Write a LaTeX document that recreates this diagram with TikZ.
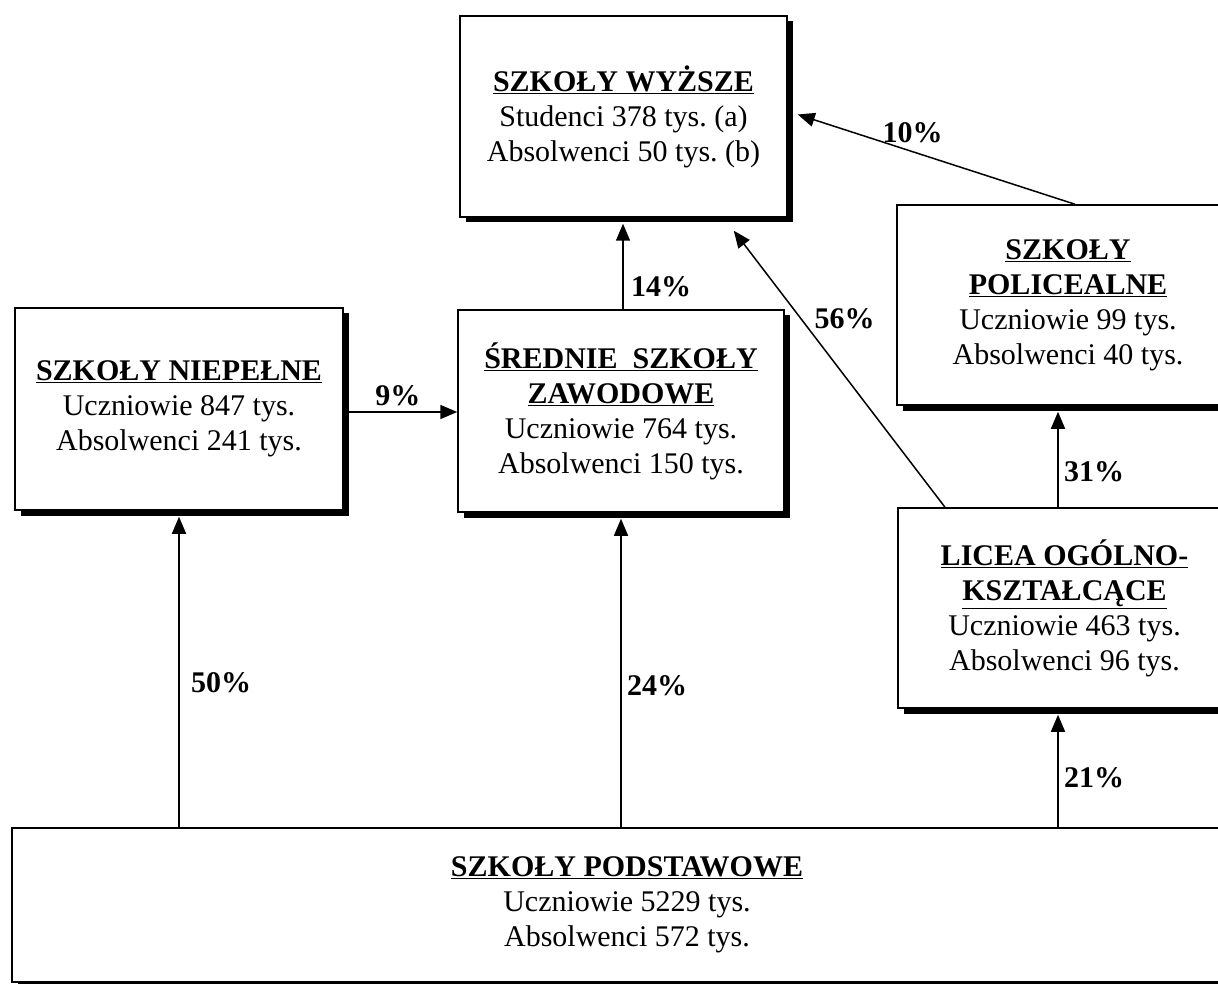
\documentclass[tikz,border=0pt]{standalone}
\usepackage{fontspec}
\setmainfont{Liberation Serif}
\usetikzlibrary{arrows.meta,shadows}
\frenchspacing

% bold, underlined heading line of a box
\newcommand\boxtitle[1]{\textbf{\underline{#1}}}

\tikzset{
  box/.style={draw, line width=1.5pt, fill=white, align=center, inner sep=0pt,
    font=\fontsize{30}{35}\selectfont,
    drop shadow={shadow xshift=5.5pt, shadow yshift=-5.5pt, fill=black, opacity=1}},
  link/.style={line width=1.5pt, -{Triangle[length=17pt,width=14pt]}},
  pct/.style={font=\bfseries\fontsize{30}{32}\selectfont, inner sep=2pt},
}

\begin{document}
\begin{tikzpicture}[x=1pt,y=-1pt]
\useasboundingbox (0,0) rectangle (1218,984);
\clip (0,0) rectangle (1218,984);

% school levels
\node[box, minimum width=327pt, minimum height=201pt] (wyz) at (623.5,116.5)
  {\boxtitle{SZKOŁY WYŻSZE}\\Studenci 378 tys. (a)\\Absolwenci 50 tys. (b)};
\node[box, minimum width=328pt, minimum height=202pt] (niep) at (179,409)
  {\boxtitle{SZKOŁY NIEPEŁNE}\\Uczniowie 847 tys.\\Absolwenci 241 tys.};
\node[box, minimum width=326pt, minimum height=202pt] (sred) at (621,411)
  {\boxtitle{ŚREDNIE\ \ SZKOŁY}\\\boxtitle{ZAWODOWE}\\Uczniowie 764 tys.\\Absolwenci 150 tys.};
\node[box, minimum width=342pt, minimum height=200pt] (poli) at (1068,305)
  {\boxtitle{SZKOŁY}\\\boxtitle{POLICEALNE}\\Uczniowie 99 tys.\\Absolwenci 40 tys.};
\node[box, minimum width=333pt, minimum height=200pt] (lic) at (1064.5,608)
  {\boxtitle{LICEA OGÓLNO-}\\\boxtitle{KSZTAŁCĄCE}\\Uczniowie 463 tys.\\Absolwenci 96 tys.};
\node[box, minimum width=1230pt, minimum height=154pt] (podst) at (627,905)
  {\boxtitle{SZKOŁY PODSTAWOWE}\\Uczniowie 5229 tys.\\Absolwenci 572 tys.};

% flows between levels
\draw[link] (podst.north -| niep.south) --
  node[pct, pos=0.465, xshift=42pt] {50\%} ([yshift=-6pt]niep.south);
\draw[link] (podst.north -| sred.south) --
  node[pct, pos=0.458, xshift=36pt] {24\%} ([yshift=-6pt]sred.south);
\draw[link] ([xshift=-6.5pt]lic.south |- podst.north) --
  node[pct, pos=0.439, xshift=36pt] {21\%} ([xshift=-6.5pt,yshift=-6pt]lic.south);
\draw[link] ([xshift=-6.5pt]lic.north) --
  node[pct, pos=0.371, xshift=36pt] {31\%} ([xshift=-6.5pt,yshift=-6pt]lic.north |- poli.south);
\draw[link] ([xshift=2pt]sred.north) --
  node[pct, pos=0.264, xshift=38pt] {14\%} ([xshift=2pt,yshift=-6pt]sred.north |- wyz.south);
\draw[link] ([xshift=5.5pt,yshift=-3pt]niep.east) --
  node[pct, pos=0.45, yshift=16pt] {9\%} ([yshift=-3pt]niep.east -| sred.west);
\draw[link] ([xshift=-119.5pt]lic.north) --
  node[pct, pos=0.683, xshift=44pt] {56\%} ([xshift=-54pt,yshift=-13pt]wyz.south east);
\draw[link] ([xshift=7pt]poli.north) --
  node[pct, pos=0.586, yshift=19pt] {10\%} ([xshift=10pt,yshift=2pt]wyz.east);
\end{tikzpicture}
\end{document}
